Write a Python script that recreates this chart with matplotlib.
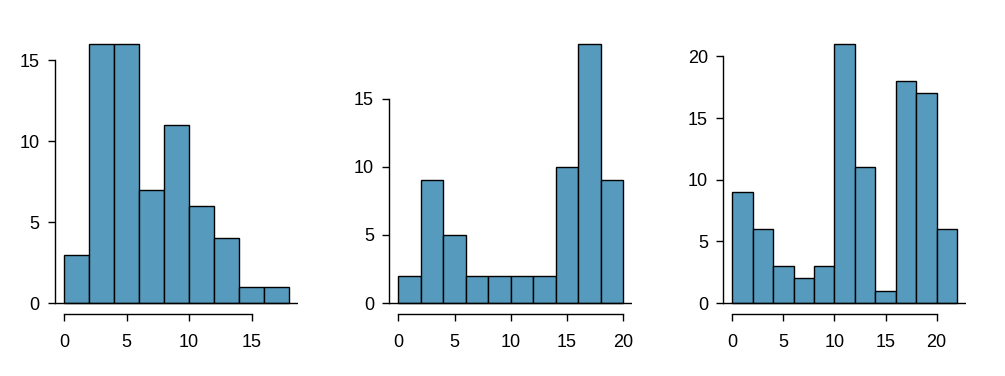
import matplotlib
matplotlib.use("Agg")
import matplotlib.pyplot as plt
import numpy as np

plt.rcParams['font.family'] = ['Liberation Sans', 'DejaVu Sans']

# bin edges (width 2) and counts for each histogram
edges1 = np.arange(0, 20, 2)
counts1 = [3, 16, 16, 7, 11, 6, 4, 1, 1]
xticks1 = [0, 5, 10, 15]
yticks1 = [0, 5, 10, 15]

edges2 = np.arange(0, 22, 2)
counts2 = [2, 9, 5, 2, 2, 2, 2, 10, 19, 9]
xticks2 = [0, 5, 10, 15, 20]
yticks2 = [0, 5, 10, 15]

edges3 = np.arange(0, 24, 2)
counts3 = [9, 6, 3, 2, 3, 21, 11, 1, 18, 17, 6]
xticks3 = [0, 5, 10, 15, 20]
yticks3 = [0, 5, 10, 15, 20]

fill = '#569BBD'
W, H = 1005, 376

fig = plt.figure(figsize=(W / 100, H / 100), dpi=100)

panels = [
    (55.0, 298.0, edges1, counts1, xticks1, yticks1),
    (389.3, 632.3, edges2, counts2, xticks2, yticks2),
    (723.3, 966.0, edges3, counts3, xticks3, yticks3),
]
top_px, bot_px = 33.8, 313.5

for left, right, edges, counts, xt, yt in panels:
    ax = fig.add_axes([left / W, 1 - bot_px / H, (right - left) / W, (bot_px - top_px) / H])
    ax.bar(edges[:-1], counts, width=2, align='edge', color=fill,
           edgecolor='black', linewidth=1.0)
    lo, hi = edges[0], edges[-1]
    pad = 0.04 * (hi - lo)
    ax.set_xlim(lo - pad, hi + pad)
    ymax = max(counts)
    ax.set_ylim(-0.04 * ymax, ymax * 1.04)
    ax.axhline(0, color='black', linewidth=1.0)
    for s in ['top', 'right']:
        ax.spines[s].set_visible(False)
    ax.spines['left'].set_bounds(yt[0], yt[-1])
    ax.spines['bottom'].set_bounds(xt[0], xt[-1])
    ax.spines['left'].set_linewidth(1.0)
    ax.spines['bottom'].set_linewidth(1.0)
    ax.set_xticks(xt)
    ax.set_yticks(yt)
    ax.tick_params(axis='x', length=5, width=1.0, pad=10, labelsize=13)
    ax.tick_params(axis='y', length=5, width=1.0, pad=6, labelsize=13)
    ax.patch.set_visible(False)

fig.savefig('out.png', dpi=100)
